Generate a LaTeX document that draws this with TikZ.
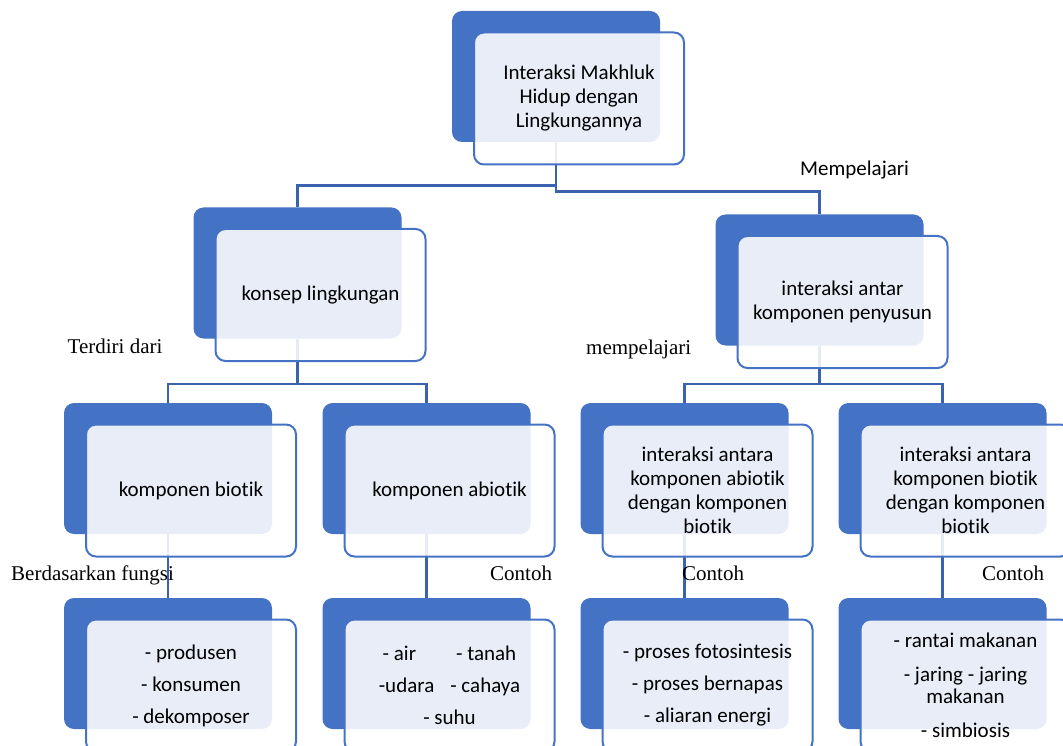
\documentclass[tikz,border=0pt]{standalone}
\usepackage{fontspec}
\setmainfont{Carlito}[Ligatures=NoCommon]
\newfontfamily\tnr{Liberation Serif}
\usetikzlibrary{backgrounds}
\definecolor{accent}{HTML}{4472C4}
\definecolor{connblue}{HTML}{3A62AE}
\begin{document}
\begin{tikzpicture}[x=1pt,y=-1pt,
  backbox/.style={fill=accent, draw=none, rounded corners=10pt, minimum width=208pt, minimum height=131pt, inner sep=0pt},
  frontbox/.style={draw=accent, line width=2pt, fill=white, fill opacity=0.88, text opacity=1, rounded corners=10pt, minimum width=210pt, minimum height=132pt, inner sep=0pt, align=center, font=\fontsize{21}{24}\selectfont},
  conn/.style={draw=connblue, line width=2.6pt},
  labserif/.style={anchor=base west, inner sep=0pt, font=\tnr\fontsize{21}{24}\selectfont},
  labsans/.style={anchor=base west, inner sep=0pt, font=\fontsize{21}{24}\selectfont}]
\useasboundingbox (0,0) rectangle (1063,746);

% row 1
\node[backbox] (b1) at (556,76.5) {};
\node[frontbox] (f1) at (579,98.5) {Interaksi Makhluk\\Hidup dengan\\Lingkungannya};
% row 2
\node[backbox] (b2) at (297.5,273) {};
\node[frontbox] (f2) at (320.5,295) {konsep lingkungan};
\node[backbox] (b3) at (819.5,280) {};
\node[frontbox] (f3) at (842.5,302) {interaksi antar\\komponen penyusun};
% row 3
\node[backbox] (b4) at (168,468.5) {};
\node[frontbox] (f4) at (191,490.5) {komponen biotik};
\node[backbox] (b5) at (426.5,468.5) {};
\node[frontbox] (f5) at (449.5,490.5) {komponen abiotik};
\node[backbox] (b6) at (684.5,468.5) {};
\node[frontbox] (f6) at (707.5,490.5) {interaksi antara\\komponen abiotik\\dengan komponen\\biotik};
\node[backbox] (b7) at (942.5,468.5) {};
\node[frontbox] (f7) at (965.5,490.5) {interaksi antara\\komponen biotik\\dengan komponen\\biotik};
% row 4
\node[backbox] (b8) at (168,663.5) {};
\node[frontbox] (f8) at (191,685.5) {- produsen\\[8pt]- konsumen\\[8pt]- dekomposer};
\node[backbox] (b9) at (426.5,663.5) {};
\node[frontbox] (f9) at (449.5,685.5) {- air\hspace*{40pt}- tanah\\[8pt]-udara\hspace*{16pt}- cahaya\\[8pt]- suhu};
\node[backbox] (b10) at (684.5,663.5) {};
\node[frontbox] (f10) at (707.5,685.5) {- proses fotosintesis\\[8pt]- proses bernapas\\[8pt]- aliaran energi};
\node[backbox] (b11) at (942.5,663.5) {};
\node[frontbox, font=\fontsize{21}{22}\selectfont] (f11) at (965.5,685.5) {- rantai makanan\\[12pt]- jaring - jaring\\makanan\\[12pt]- simbiosis};

\begin{pgfonlayer}{background}
\draw[conn] (b1.south) |- ([yshift=21.5pt]b2.north) -- (b2.north);
\draw[conn] (b1.south) |- ([yshift=22.5pt]b3.north) -- (b3.north);
\draw[conn] (b2.south) |- ([yshift=19pt]b4.north) -- (b4.north);
\draw[conn] (b2.south) |- ([yshift=19pt]b5.north) -- (b5.north);
\draw[conn] (b3.south) |- ([yshift=19pt]b6.north) -- (b6.north);
\draw[conn] (b3.south) |- ([yshift=19pt]b7.north) -- (b7.north);
\draw[conn] (b4.south) -- (b8.north);
\draw[conn] (b5.south) -- (b9.north);
\draw[conn] (b6.south) -- (b10.north);
\draw[conn] (b7.south) -- (b11.north);
\end{pgfonlayer}

% labels
\node[labsans] (l1) at (800,175.5) {Mempelajari};
\node[labserif] (l2) at (67.5,353) {Terdiri dari};
\node[labserif] (l3) at (586,354) {mempelajari};
\node[labserif] (l4) at (11,580) {Berdasarkan fungsi};
\node[labserif] (l5) at (490,580) {Contoh};
\node[labserif] (l6) at (682,580) {Contoh};
\node[labserif] (l7) at (982,580) {Contoh};
\end{tikzpicture}
\end{document}
